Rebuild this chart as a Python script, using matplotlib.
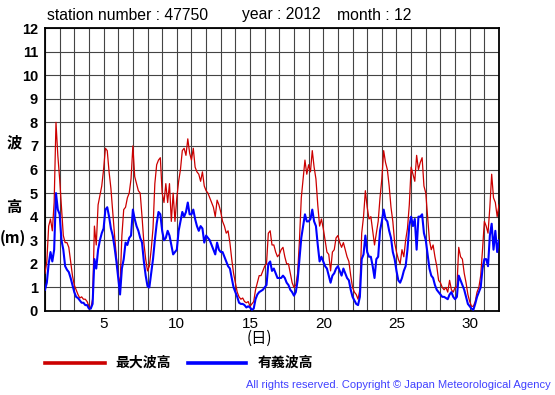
import numpy as np
import matplotlib
matplotlib.use("Agg")
import matplotlib.pyplot as plt

# wave heights (m), every 3 hours from day 1 00h to day 32 00h
max_wave = [
    1.6, 2.1, 3.6, 3.9, 3.4, 4.6, 8.0, 6.6,      # 1
    5.6, 4.4, 3.2, 2.9, 2.9, 2.7, 2.1, 1.5,      # 2
    1.1, 0.9, 0.7, 0.55, 0.6, 0.5, 0.5, 0.4,     # 3
    0.2, 0.1, 0.5, 3.6, 2.8, 4.5, 4.9, 5.3,      # 4
    6.0, 6.9, 6.8, 5.9, 5.2, 4.2, 3.2, 2.3,      # 5
    1.5, 1.1, 3.2, 4.3, 4.4, 4.8, 5.0, 5.6,      # 6
    7.0, 5.7, 5.4, 5.1, 5.0, 4.0, 2.9, 2.2,      # 7
    1.7, 1.9, 2.6, 3.5, 5.4, 6.2, 6.4, 6.5,      # 8
    5.0, 4.6, 5.4, 4.6, 5.4, 3.8, 5.0, 3.8,      # 9
    4.8, 5.5, 6.0, 6.8, 6.9, 6.6, 7.3, 6.7,      # 10
    6.4, 6.9, 6.1, 5.9, 5.8, 5.5, 5.9, 5.3,      # 11
    5.1, 5.0, 4.8, 4.6, 4.4, 4.0, 4.7, 4.5,      # 12
    4.2, 3.8, 3.6, 3.3, 3.4, 2.9, 2.2, 1.6,      # 13
    1.2, 0.8, 0.6, 0.5, 0.55, 0.4, 0.35, 0.4,    # 14
    0.2, 0.3, 0.4, 0.9, 1.2, 1.5, 1.5, 1.7,      # 15
    1.9, 2.0, 3.3, 3.4, 2.8, 2.8, 2.5, 2.3,      # 16
    2.4, 2.6, 2.7, 2.3, 2.0, 2.0, 1.6, 1.2,      # 17
    1.0, 1.1, 1.6, 3.0, 4.8, 5.6, 6.4, 5.8,      # 18
    6.2, 5.9, 6.8, 6.1, 5.6, 4.5, 3.6, 3.9,      # 19
    3.5, 3.0, 2.5, 2.4, 1.7, 2.5, 2.6, 3.1,      # 20
    3.2, 2.9, 2.7, 2.9, 2.6, 2.3, 2.1, 1.5,      # 21
    1.0, 0.8, 0.7, 0.5, 0.9, 3.3, 4.0, 5.1,      # 22
    4.4, 3.9, 4.0, 3.4, 2.8, 3.3, 3.8, 4.8,      # 23
    5.6, 6.8, 6.3, 6.0, 5.3, 4.4, 3.8, 2.9,      # 24
    2.5, 2.2, 2.0, 2.6, 2.3, 3.0, 3.5, 4.5,      # 25
    6.1, 5.8, 5.5, 6.6, 6.0, 6.3, 6.5, 5.3,      # 26
    5.0, 4.0, 3.0, 2.6, 2.8, 2.3, 1.9, 1.3,      # 27
    1.2, 1.0, 0.9, 1.0, 0.8, 1.3, 0.9, 0.8,      # 28
    1.0, 1.0, 2.7, 2.3, 2.2, 1.6, 1.2, 0.7,      # 29
    0.4, 0.2, 0.2, 0.4, 0.8, 1.0, 1.5, 2.6,      # 30
    3.8, 3.6, 3.3, 4.4, 5.8, 4.8, 4.6, 4.0,      # 31
    4.5,
]

sig_wave = [
    0.9, 1.2, 2.0, 2.5, 2.1, 2.6, 5.0, 4.3,
    4.1, 3.0, 2.6, 1.9, 1.75, 1.65, 1.4, 1.1,
    0.8, 0.6, 0.55, 0.45, 0.35, 0.35, 0.25, 0.25,
    0.1, 0.1, 0.3, 2.2, 1.8, 2.6, 3.0, 3.3,
    3.5, 4.3, 4.4, 4.0, 3.5, 3.2, 2.7, 2.1,
    1.4, 0.7, 1.8, 2.2, 2.9, 2.8, 3.1, 3.2,
    4.3, 3.9, 3.6, 3.4, 3.1, 2.9, 2.1, 1.5,
    1.05, 1.0, 1.6, 2.2, 3.0, 3.7, 4.2, 4.1,
    3.4, 3.0, 3.1, 3.4, 3.2, 2.8, 2.4, 2.5,
    2.6, 3.4, 3.8, 4.2, 4.0, 4.2, 4.6, 4.1,
    4.1, 4.3, 3.9, 3.6, 3.4, 3.6, 3.5, 2.9,
    3.2, 3.1, 3.0, 2.8, 2.6, 2.4, 2.9, 2.6,
    2.5, 2.5, 2.3, 2.1, 1.9, 1.8, 1.4, 1.0,
    0.8, 0.6, 0.35, 0.3, 0.3, 0.25, 0.15, 0.2,
    0.15, 0.05, 0.1, 0.5, 0.7, 0.8, 0.85, 0.9,
    1.0, 1.1, 2.0, 2.1, 1.7, 1.8, 1.6, 1.4,
    1.4, 1.4, 1.5, 1.4, 1.2, 1.1, 0.9, 0.8,
    0.65, 0.8, 1.3, 2.2, 3.1, 3.6, 4.1, 3.8,
    3.8, 3.9, 4.3, 3.8, 3.6, 2.8, 2.1, 2.3,
    2.1, 1.9, 1.8, 1.5, 1.2, 1.5, 1.6, 1.8,
    1.9, 1.7, 1.5, 1.8, 1.6, 1.4, 1.3, 0.9,
    0.6, 0.45, 0.3, 0.25, 0.6, 2.2, 2.4, 3.2,
    2.5, 2.3, 2.3, 1.9, 1.4, 2.2, 2.3, 3.4,
    3.8, 4.3, 3.9, 3.8, 3.4, 3.1, 2.5, 2.2,
    1.7, 1.3, 1.2, 1.4, 1.7, 1.9, 2.6, 3.6,
    4.0, 3.6, 3.9, 2.6, 4.0, 4.0, 4.1, 3.3,
    3.0, 2.4, 1.8, 1.5, 1.4, 1.1, 0.9, 0.8,
    0.7, 0.6, 0.6, 0.55, 0.5, 0.7, 0.8, 0.6,
    0.5, 0.6, 1.5, 1.3, 1.1, 0.9, 0.6, 0.3,
    0.2, 0.1, 0.05, 0.3, 0.6, 0.8, 1.0, 1.8,
    2.2, 2.2, 1.9, 3.2, 3.7, 2.6, 3.4, 2.5,
    3.0,
]

days = 1 + np.arange(len(max_wave)) / 8.0
xlabels = [5, 10, 15, 20, 25, 30]

W, H = 555, 395
LAT = "Liberation Sans"
CJK = ["Noto Sans CJK JP", "DejaVu Sans"]


def fx(x):
    return x / W


def fy(y):
    return 1 - y / H


fig = plt.figure(figsize=(W / 100, H / 100), dpi=100)
ax = fig.add_axes([fx(45), fy(311), fx(499) - fx(45), fy(28) - fy(311)])

ax.plot(days, max_wave, color="#cc0000", lw=0.9, zorder=3)
ax.plot(days, sig_wave, color="#0000ff", lw=1.5, zorder=4)

ax.set_xlim(1, 32)
ax.set_ylim(0, 12)
ax.set_xticks(range(1, 33))
ax.set_xticklabels([str(d) if d in xlabels else "" for d in range(1, 33)],
                   fontname=LAT, fontsize=11)
ax.set_yticks(range(13))
ax.set_yticklabels([str(v) for v in range(13)], fontname=LAT,
                   fontsize=10.5, fontweight="bold")
ax.tick_params(length=0, pad=4)
ax.tick_params(axis="y", pad=5)
ax.grid(True, color="#444444", lw=0.8)
ax.set_axisbelow(True)
for s in ax.spines.values():
    s.set_color("black")
    s.set_linewidth(1.3)

# header
fig.text(fx(47), fy(15), "station number : 47750", fontname=LAT, fontsize=11.3,
         va="center")
fig.text(fx(242), fy(15), "year : 2012", fontname=LAT, fontsize=11.3, va="center")
fig.text(fx(337), fy(15), "month : 12", fontname=LAT, fontsize=11.3, va="center")

# y label pieces
fig.text(fx(14), fy(142), "波", family=CJK, fontsize=11, fontweight="bold",
         ha="center", va="center")
fig.text(fx(14), fy(207), "高", family=CJK, fontsize=11, fontweight="bold",
         ha="center", va="center")
fig.text(fx(13), fy(238), "(m)", family=CJK, fontsize=11, fontweight="bold",
         ha="center", va="center")
fig.text(fx(259), fy(338), "(日)", family=CJK, fontsize=11,
         ha="center", va="center")

# legend
fig.add_artist(plt.Line2D([fx(45), fx(105)], [fy(363), fy(363)],
                          color="#cc0000", lw=2.6))
fig.text(fx(115), fy(363), "最大波高", family=CJK, fontsize=10,
         fontweight="bold", va="center")
fig.add_artist(plt.Line2D([fx(188), fx(246)], [fy(363), fy(363)],
                          color="#0000ff", lw=2.6))
fig.text(fx(258), fy(363), "有義波高", family=CJK, fontsize=10,
         fontweight="bold", va="center")

fig.text(fx(551), fy(385),
         "All rights reserved. Copyright \u00a9 Japan Meteorological Agency",
         fontname=LAT, fontsize=8, color="#4040ff", ha="right", va="center")

fig.savefig("out.png", dpi=100)
